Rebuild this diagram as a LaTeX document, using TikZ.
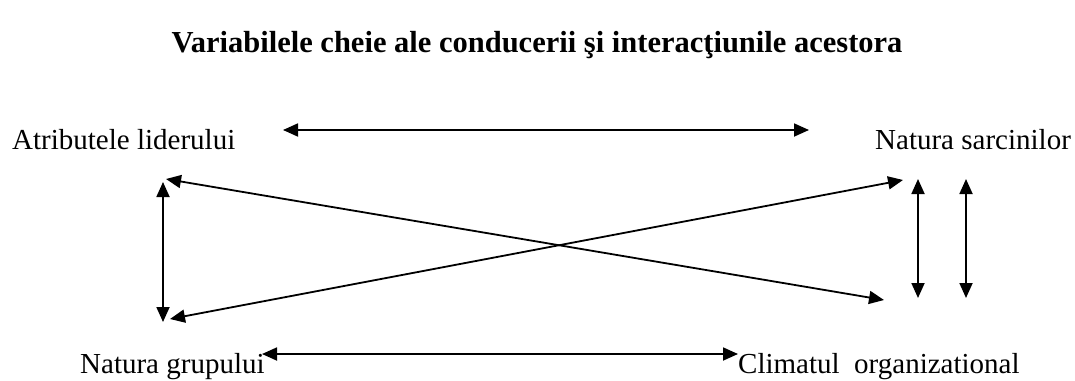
\documentclass[tikz,border=0pt]{standalone}
\usepackage{fontspec}
\setmainfont{Liberation Serif}
\usetikzlibrary{arrows.meta}

\begin{document}
\begin{tikzpicture}[
  x=1pt, y=-1pt,
  >={Triangle[length=15pt, width=13pt]},
  var/.style={font=\fontsize{29}{34}\selectfont, anchor=base west, inner sep=0pt},
  link/.style={<->, line width=1.8pt},
]
\useasboundingbox (0,0) rectangle (1075,380);

% Title
\node[font=\fontsize{30.5}{36}\selectfont\bfseries, anchor=base, inner sep=0pt] (title)
  at (537,52) {Variabilele cheie ale conducerii şi interacţiunile acestora};

% === The four variables ===
\node[var] (lider) at (12,149) {Atributele liderului};
\node[var] (sarcini) at (875,149) {Natura sarcinilor};
\node[var] (grup) at (80,373) {Natura grupului};
\node[var] (climat) at (738,373) {Climatul\ \ organizational};

% Arrow ends
\coordinate (topL) at (283,130);
\coordinate (topR) at (809,130);
\coordinate (botL) at (262,354);
\coordinate (botR) at (738,354);
\coordinate (vertT) at (163,182);
\coordinate (vertB) at (163,322);
\coordinate (diagA) at (166,179);
\coordinate (diagB) at (884,300);
\coordinate (diagC) at (170,319);
\coordinate (diagD) at (903,180);
\coordinate (rightAT) at (918,179);
\coordinate (rightAB) at (918,298);
\coordinate (rightBT) at (966,179);
\coordinate (rightBB) at (966,298);

% Interactions
\draw[link] (topL) -- (topR);
\draw[link] (botL) -- (botR);
\draw[link] (vertT) -- (vertB);
\draw[link] (diagA) -- (diagB);
\draw[link] (diagC) -- (diagD);
\draw[link] (rightAT) -- (rightAB);
\draw[link] (rightBT) -- (rightBB);

\end{tikzpicture}
\end{document}
